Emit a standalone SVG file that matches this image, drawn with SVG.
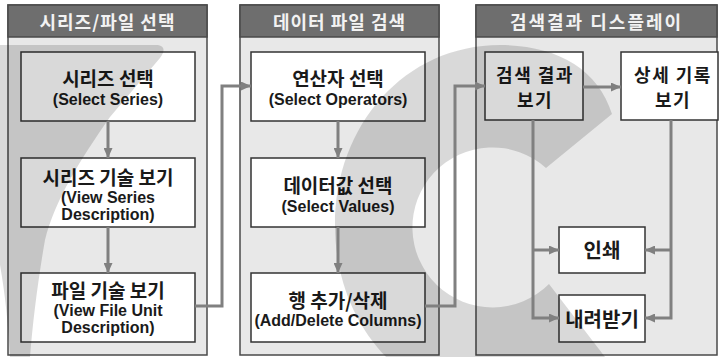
<svg xmlns="http://www.w3.org/2000/svg" width="719" height="357" viewBox="0 0 719 357">
<style>
.panel{fill:#e8e8e8;stroke:#4a4a4a;stroke-width:1.5}
.head{fill:#6e6e6e;stroke:#4a4a4a;stroke-width:1.5}
.htxt{font-family:"Noto Sans CJK KR","Noto Sans",sans-serif;font-weight:bold;font-size:18px;fill:#f2f2f2;text-anchor:middle;letter-spacing:1px}
.box{fill:#ffffff;stroke:#333333;stroke-width:1.5}
.lbl{text-anchor:middle;fill:#1a1a1a}
.ko{font-family:"Noto Sans CJK KR","Noto Sans",sans-serif;font-weight:bold;font-size:19px}
.ko2{font-family:"Noto Sans CJK KR","Noto Sans",sans-serif;font-weight:bold;font-size:20px}
.ko3{font-family:"Noto Sans CJK KR","Noto Sans",sans-serif;font-weight:bold;font-size:18px;letter-spacing:1.5px}
.en{font-family:"Liberation Sans","Noto Sans",sans-serif;font-weight:bold;font-size:16px}
.conn{fill:none;stroke:#808080;stroke-width:3}
.wm{fill:#000000;fill-opacity:0.15}
</style>
<defs>
<marker id="ah" markerWidth="10" markerHeight="9" refX="10" refY="4.5" orient="auto" markerUnits="userSpaceOnUse">
<path d="M0,0 L10,4.5 L0,9 Z" fill="#808080"/>
</marker>
</defs>
<rect width="719" height="357" fill="#ffffff"/>

<g id="panel-series-file">
<rect class="panel" x="8" y="5" width="199" height="350"/>
<rect class="head" x="8" y="5" width="199" height="32"/>
<text class="htxt" x="107.5" y="29">시리즈/파일 선택</text>
</g>
<g id="panel-data-search">
<rect class="panel" x="240" y="5" width="199" height="350"/>
<rect class="head" x="240" y="5" width="199" height="32"/>
<text class="htxt" x="339.5" y="29">데이터 파일 검색</text>
</g>
<g id="panel-display">
<rect class="panel" x="476" y="5" width="241" height="350"/>
<rect class="head" x="476" y="5" width="241" height="32"/>
<text class="htxt" x="596.5" y="29" style="letter-spacing:2px">검색결과 디스플레이</text>
</g>

<g id="select-series">
<rect class="box" x="21" y="52" width="174" height="69"/>
<text class="lbl"><tspan class="ko" x="108" y="86">시리즈 선택</tspan><tspan class="en" x="108" y="105">(Select Series)</tspan></text>
</g>
<g id="view-series-desc">
<rect class="box" x="21" y="158" width="174" height="69"/>
<text class="lbl"><tspan class="ko" x="108" y="185">시리즈 기술 보기</tspan><tspan class="en" x="108" y="203">(View Series</tspan><tspan class="en" x="108" y="220">Description)</tspan></text>
</g>
<g id="view-file-desc">
<rect class="box" x="21" y="273" width="174" height="69"/>
<text class="lbl"><tspan class="ko" x="108" y="298">파일 기술 보기</tspan><tspan class="en" x="108" y="316">(View File Unit</tspan><tspan class="en" x="108" y="333">Description)</tspan></text>
</g>

<g id="select-operators">
<rect class="box" x="251" y="52" width="174" height="69"/>
<text class="lbl"><tspan class="ko" x="338" y="86">연산자 선택</tspan><tspan class="en" x="338" y="105">(Select Operators)</tspan></text>
</g>
<g id="select-values">
<rect class="box" x="251" y="158" width="174" height="69"/>
<text class="lbl"><tspan class="ko" x="338" y="193">데이터값 선택</tspan><tspan class="en" x="338" y="212">(Select Values)</tspan></text>
</g>
<g id="add-delete-columns">
<rect class="box" x="251" y="273" width="174" height="69"/>
<text class="lbl"><tspan class="ko" x="338" y="308">행 추가/삭제</tspan><tspan class="en" x="338" y="326">(Add/Delete Columns)</tspan></text>
</g>

<g id="view-results">
<rect class="box" x="485" y="52" width="98" height="68"/>
<text class="lbl ko3"><tspan x="535" y="82">검색 결과</tspan><tspan x="535" y="107">보기</tspan></text>
</g>
<g id="view-detail">
<rect class="box" x="621" y="52" width="97" height="68"/>
<text class="lbl ko3"><tspan x="673" y="82">상세 기록</tspan><tspan x="673" y="107">보기</tspan></text>
</g>
<g id="print">
<rect class="box" x="559" y="227" width="86" height="46"/>
<text class="lbl ko2" x="602" y="258">인쇄</text>
</g>
<g id="download">
<rect class="box" x="559" y="295" width="86" height="47"/>
<text class="lbl ko2" x="602" y="327">내려받기</text>
</g>

<g id="watermark">
<path class="wm" d="M -5,45 L 158,45 Q 168,47 160,58 L 110,117 C 80,160 55,200 45,240 C 38,280 33,320 30,357 L 10,357 C 8,320 4,280 -5,240 Z"/>
<path class="wm" d="M 612,114 C 598,68 555,45 500,45 C 405,45 335,125 335,225 C 335,325 405,405 500,405 C 550,405 590,390 615,370 L 549,284 A 80,80 0 1,1 546,168 Z"/>
</g>

<g id="connectors">
<path class="conn" d="M108,121 V158" marker-end="url(#ah)"/>
<path class="conn" d="M108,227 V273" marker-end="url(#ah)"/>
<path class="conn" d="M195,306 H222 V86 H251" marker-end="url(#ah)"/>
<path class="conn" d="M338,121 V158" marker-end="url(#ah)"/>
<path class="conn" d="M338,227 V273" marker-end="url(#ah)"/>
<path class="conn" d="M425,306 H455 V86 H485" marker-end="url(#ah)"/>
<path class="conn" d="M583,87 H621" marker-end="url(#ah)"/>
<path class="conn" d="M533,120 V318 H559" marker-end="url(#ah)"/>
<path class="conn" d="M533,250 H559" marker-end="url(#ah)"/>
<path class="conn" d="M671,120 V318 H645" marker-end="url(#ah)"/>
<path class="conn" d="M671,250 H645" marker-end="url(#ah)"/>
</g>
</svg>
